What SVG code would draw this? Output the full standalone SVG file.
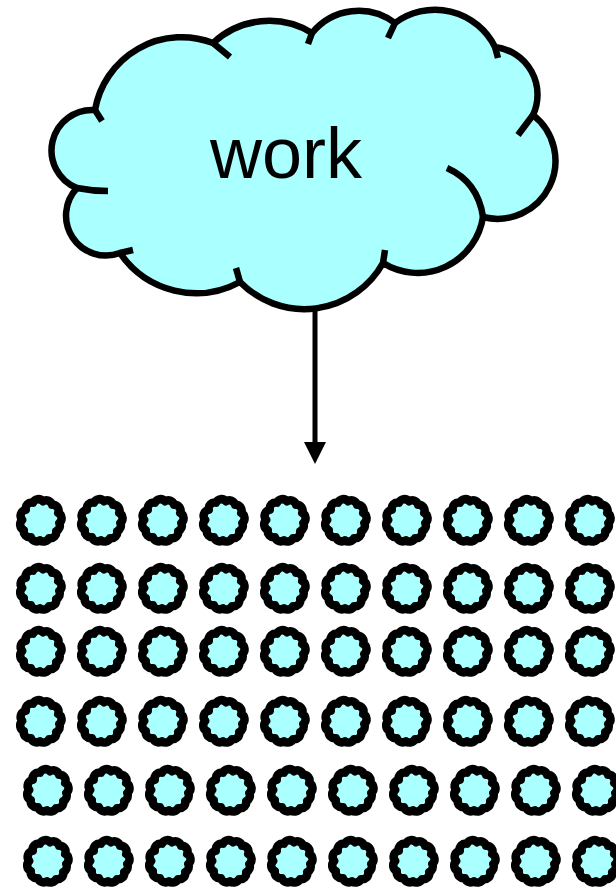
<svg xmlns="http://www.w3.org/2000/svg" xmlns:xlink="http://www.w3.org/1999/xlink" width="616" height="888" viewBox="0 0 616 888">
<style>
.cloud{fill:#aaffff;stroke:#000;stroke-width:6.5;stroke-linejoin:round}
.hook{fill:none;stroke:#000;stroke-width:6.5}
.mini{fill:#aaffff;stroke:#000;stroke-width:8.5;stroke-linejoin:round}
.label{font-family:"Liberation Sans",Arial,sans-serif;font-size:72px;fill:#000}
.conn{stroke:#000;stroke-width:5;fill:none}
</style>
<defs>
<marker id="arrow" markerUnits="userSpaceOnUse" markerWidth="22" markerHeight="22" refX="2" refY="11" orient="auto">
<path d="M0,0 L22,11 L0,22 z" fill="#000"/>
</marker>
<path id="mc" class="mini" d="M-8.1,-18.3 A6,6 0 0 1 2,-19.7 A6,6 0 0 1 11.1,-16.2 A6,6 0 0 1 17.2,-8.1 A6,6 0 0 1 18.3,2 A6,6 0 0 1 15.2,10.1 A6,6 0 0 1 8.1,17.2 A6,6 0 0 1 -1,19.3 A6,6 0 0 1 -10.1,16.2 A6,6 0 0 1 -17.2,9.1 A6,6 0 0 1 -18.7,-1 A6,6 0 0 1 -15.2,-11.1 A6,6 0 0 1 -8.1,-18.3 Z"/>
</defs>
<g id="connectors">
<line class="conn" x1="315" y1="308" x2="315" y2="444" marker-end="url(#arrow)"/>
</g>
<g id="work">
<path class="cloud" d="M95,110 A88,88 0 0 1 213,43 A82,82 0 0 1 312,33 A60,60 0 0 1 395,23 A67,67 0 0 1 495,47 A48,48 0 0 1 533,115 A58,58 0 0 1 483,217 A66,66 0 0 1 383,263 A90,90 0 0 1 240,282 A92,92 0 0 1 120,253 A40,40 0 0 1 77,188 A40.5,40.5 0 0 1 95,110 Z"/>
<path class="hook" d="M95,110 L102,121 M213,43 L230,57 M312,33 L308,44 M395,23 L388,38 M495,47 L498,58 M533,115 L518,135 M447,168 Q478,182 483,217 M383,263 L385,250 M240,282 L236,268 M120,253 L133,250 M77,188 Q92,191 108,191"/>
<text class="label" x="286" y="178" text-anchor="middle">work</text>
</g>
<g id="r1">
<use id="c1_1" xlink:href="#mc" x="41" y="521"/><use id="c1_2" xlink:href="#mc" x="102" y="521"/><use id="c1_3" xlink:href="#mc" x="163" y="521"/><use id="c1_4" xlink:href="#mc" x="224" y="521"/><use id="c1_5" xlink:href="#mc" x="285" y="521"/><use id="c1_6" xlink:href="#mc" x="346" y="521"/><use id="c1_7" xlink:href="#mc" x="407" y="521"/><use id="c1_8" xlink:href="#mc" x="468" y="521"/><use id="c1_9" xlink:href="#mc" x="529" y="521"/><use id="c1_10" xlink:href="#mc" x="590" y="521"/>
</g>
<g id="r2">
<use id="c2_1" xlink:href="#mc" x="41" y="589"/><use id="c2_2" xlink:href="#mc" x="102" y="589"/><use id="c2_3" xlink:href="#mc" x="163" y="589"/><use id="c2_4" xlink:href="#mc" x="224" y="589"/><use id="c2_5" xlink:href="#mc" x="285" y="589"/><use id="c2_6" xlink:href="#mc" x="346" y="589"/><use id="c2_7" xlink:href="#mc" x="407" y="589"/><use id="c2_8" xlink:href="#mc" x="468" y="589"/><use id="c2_9" xlink:href="#mc" x="529" y="589"/><use id="c2_10" xlink:href="#mc" x="590" y="589"/>
</g>
<g id="r3">
<use id="c3_1" xlink:href="#mc" x="41" y="652"/><use id="c3_2" xlink:href="#mc" x="102" y="652"/><use id="c3_3" xlink:href="#mc" x="163" y="652"/><use id="c3_4" xlink:href="#mc" x="224" y="652"/><use id="c3_5" xlink:href="#mc" x="285" y="652"/><use id="c3_6" xlink:href="#mc" x="346" y="652"/><use id="c3_7" xlink:href="#mc" x="407" y="652"/><use id="c3_8" xlink:href="#mc" x="468" y="652"/><use id="c3_9" xlink:href="#mc" x="529" y="652"/><use id="c3_10" xlink:href="#mc" x="590" y="652"/>
</g>
<g id="r4">
<use id="c4_1" xlink:href="#mc" x="41" y="722"/><use id="c4_2" xlink:href="#mc" x="102" y="722"/><use id="c4_3" xlink:href="#mc" x="163" y="722"/><use id="c4_4" xlink:href="#mc" x="224" y="722"/><use id="c4_5" xlink:href="#mc" x="285" y="722"/><use id="c4_6" xlink:href="#mc" x="346" y="722"/><use id="c4_7" xlink:href="#mc" x="407" y="722"/><use id="c4_8" xlink:href="#mc" x="468" y="722"/><use id="c4_9" xlink:href="#mc" x="529" y="722"/><use id="c4_10" xlink:href="#mc" x="590" y="722"/>
</g>
<g id="r5">
<use id="c5_1" xlink:href="#mc" x="48" y="791"/><use id="c5_2" xlink:href="#mc" x="109" y="791"/><use id="c5_3" xlink:href="#mc" x="170" y="791"/><use id="c5_4" xlink:href="#mc" x="231" y="791"/><use id="c5_5" xlink:href="#mc" x="292" y="791"/><use id="c5_6" xlink:href="#mc" x="353" y="791"/><use id="c5_7" xlink:href="#mc" x="414" y="791"/><use id="c5_8" xlink:href="#mc" x="475" y="791"/><use id="c5_9" xlink:href="#mc" x="536" y="791"/><use id="c5_10" xlink:href="#mc" x="597" y="791"/>
</g>
<g id="r6">
<use id="c6_1" xlink:href="#mc" x="48" y="862"/><use id="c6_2" xlink:href="#mc" x="109" y="862"/><use id="c6_3" xlink:href="#mc" x="170" y="862"/><use id="c6_4" xlink:href="#mc" x="231" y="862"/><use id="c6_5" xlink:href="#mc" x="292" y="862"/><use id="c6_6" xlink:href="#mc" x="353" y="862"/><use id="c6_7" xlink:href="#mc" x="414" y="862"/><use id="c6_8" xlink:href="#mc" x="475" y="862"/><use id="c6_9" xlink:href="#mc" x="536" y="862"/><use id="c6_10" xlink:href="#mc" x="597" y="862"/>
</g>
</svg>
